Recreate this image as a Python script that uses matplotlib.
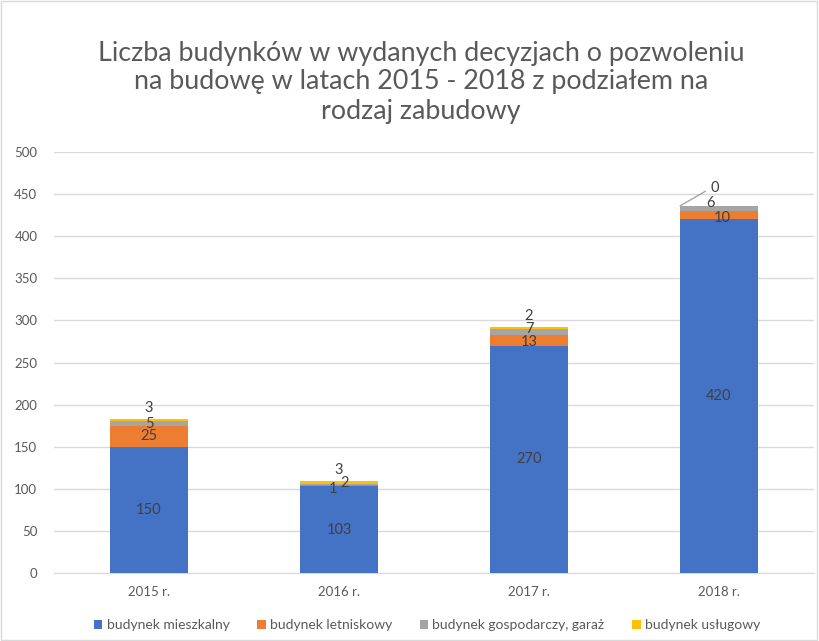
import matplotlib
matplotlib.use("Agg")
import matplotlib.pyplot as plt
import numpy as np

plt.rcParams['font.family'] = ['Lato', 'DejaVu Sans']

years = ["2015 r.", "2016 r.", "2017 r.", "2018 r."]
mieszkalny = [150, 103, 270, 420]
letniskowy = [25, 1, 13, 10]
gospodarczy = [5, 2, 7, 6]
uslugowy = [3, 3, 2, 0]

series = [
    ("budynek mieszkalny", mieszkalny, "#4472C4"),
    ("budynek letniskowy", letniskowy, "#ED7D31"),
    ("budynek gospodarczy, garaż", gospodarczy, "#A5A5A5"),
    ("budynek usługowy", uslugowy, "#FFC000"),
]

# label nudges in points (series index, category index) -> (dx, dy)
nudge = {(1, 1): (-4, -2), (2, 1): (4, 1), (1, 2): (0, -1), (2, 2): (0, 2),
         (2, 3): (-6, 4), (1, 3): (2, -2)}

fig = plt.figure(figsize=(8.19, 6.41), dpi=100)
ax = fig.add_axes([54/819, 68/641, 760/819, 421/641])

x = np.arange(len(years))
bottom = np.zeros(len(years))
width = 0.41
txtcol = "#404040"
for i, (name, vals, col) in enumerate(series):
    v = np.array(vals, dtype=float)
    ax.bar(x, v, width, bottom=bottom, color=col, label=name, zorder=3)
    for j in range(len(years)):
        c = bottom[j] + v[j] / 2
        dx, dy = nudge.get((i, j), (0, 0))
        if i < 3:
            ax.annotate(str(vals[j]), xy=(x[j], c), xytext=(dx, dy),
                        textcoords="offset points", ha="center", va="center",
                        fontsize=10.5, color=txtcol, zorder=5)
        else:
            top = bottom[j] + v[j]
            if vals[j] == 0:
                ax.annotate(str(vals[j]), xy=(x[j] - width/2, top), xytext=(22, 13),
                            textcoords="offset points", ha="left", va="center",
                            fontsize=10.5, color=txtcol,
                            arrowprops=dict(arrowstyle="-", color="#A6A6A6", lw=1,
                                            shrinkA=2, shrinkB=0,
                                            connectionstyle="angle,angleA=0,angleB=30,rad=0"))
            else:
                ax.annotate(str(vals[j]), xy=(x[j], top), xytext=(0, 8),
                            textcoords="offset points", ha="center", va="center",
                            fontsize=10.5, color=txtcol, zorder=5)
    bottom += v

ax.set_xlim(-0.5, 3.5)
ax.set_ylim(0, 500)
ax.set_yticks(range(0, 501, 50))
ax.set_xticks(x)
ax.set_xticklabels(years)
ax.yaxis.grid(True, color="#D9D9D9", lw=1, zorder=0)
ax.tick_params(axis="both", length=0, colors="#595959", labelsize=9.5)
ax.tick_params(axis="y", pad=12)
ax.tick_params(axis="x", pad=9)
for s in ["top", "right", "left"]:
    ax.spines[s].set_visible(False)
ax.spines["bottom"].set_color("#D9D9D9")

fig.text(421/819, 1 - 82/641,
         "Liczba budynków w wydanych decyzjach o pozwoleniu\nna budowę w latach 2015 - 2018 z podziałem na\nrodzaj zabudowy",
         ha="center", va="center", fontsize=19.4, color="#595959", linespacing=1.2)

leg = fig.legend(loc="center", bbox_to_anchor=(427/819, 1 - 625/641), ncol=4,
                 frameon=False, fontsize=10, handlelength=0.6, handleheight=0.6,
                 handletextpad=0.3, columnspacing=2.0)
for t in leg.get_texts():
    t.set_color("#595959")

fig.patches.append(plt.Rectangle((0.001, 0.001), 0.997, 0.997, transform=fig.transFigure,
                                 fill=False, edgecolor="#D9D9D9", lw=1))

fig.savefig("out.png", dpi=100)
